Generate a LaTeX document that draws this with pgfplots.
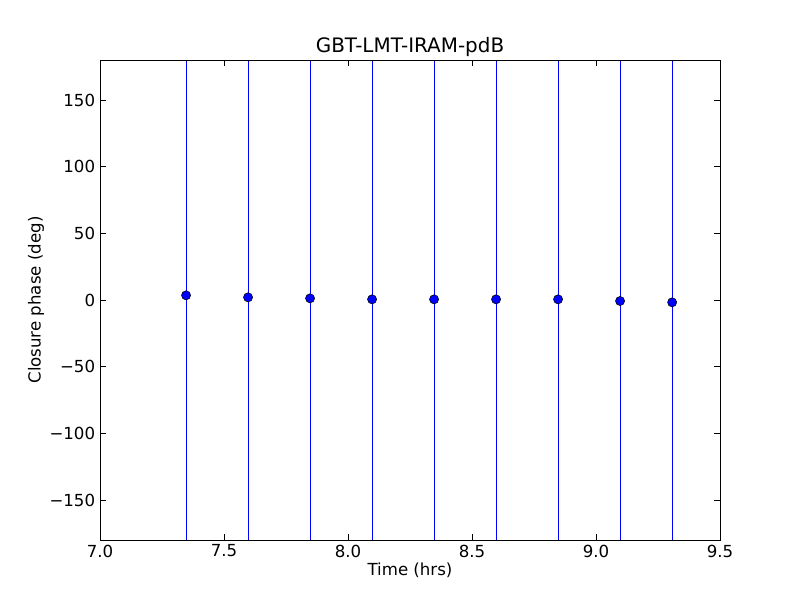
\documentclass[border=0pt]{standalone}
\usepackage{pgfplots}
\pgfplotsset{compat=1.18}
\usepackage{fontspec}
\setmainfont{DejaVu Sans}
% closure phase points
\pgfplotstableread{
x y
7.347 3.5
7.597 2.0
7.847 1.25
8.097 0.5
8.347 0.5
8.597 0.5
8.847 0.5
9.097 -0.75
9.307 -1.75
}\cpdata
% error bars (extend beyond the plotted range)
\pgfplotstableread{
x y
7.347 -180
7.347 180
nan nan
7.597 -180
7.597 180
nan nan
7.847 -180
7.847 180
nan nan
8.097 -180
8.097 180
nan nan
8.347 -180
8.347 180
nan nan
8.597 -180
8.597 180
nan nan
8.847 -180
8.847 180
nan nan
9.097 -180
9.097 180
nan nan
9.307 -180
9.307 180
}\errdata
\begin{document}
\begin{tikzpicture}
\path[use as bounding box] (-1in,-0.6in) rectangle (7in,5.4in);
\begin{axis}[
  at={(0,0)}, anchor=south west,
  scale only axis, width=6.2in, height=4.8in,
  xmin=7, xmax=9.5, ymin=-180, ymax=180,
  xtick={7,7.5,8,8.5,9,9.5}, xticklabels={7.0,7.5,8.0,8.5,9.0,9.5},
  ytick={-150,-100,-50,0,50,100,150}, yticklabels={−150,−100,−50,0,50,100,150},
  tick align=inside, major tick length=4pt,
  xtick pos=both, ytick pos=both,
  tick style={black, line width=0.5pt},
  axis line style={black, line width=0.7pt},
  title={GBT-LMT-IRAM-pdB},
  title style={font=\fontsize{14.4}{17}\selectfont, yshift=-7pt},
  xlabel={Time (hrs)}, ylabel={Closure phase (deg)},
  label style={font=\fontsize{12}{14}\selectfont},
  ticklabel style={font=\fontsize{12}{14}\selectfont},
  xlabel style={yshift=3pt},
  ylabel style={yshift=-3pt},
  axis on top,
  unbounded coords=jump,
]
\addplot[blue, line width=0.75pt, mark=none] table[x=x, y=y] {\errdata};
\addplot[only marks, mark=*, mark size=3.3pt,
  mark options={fill=blue, draw=black, line width=0.4pt}]
  table[x=x, y=y] {\cpdata};
\end{axis}
\end{tikzpicture}
\end{document}
